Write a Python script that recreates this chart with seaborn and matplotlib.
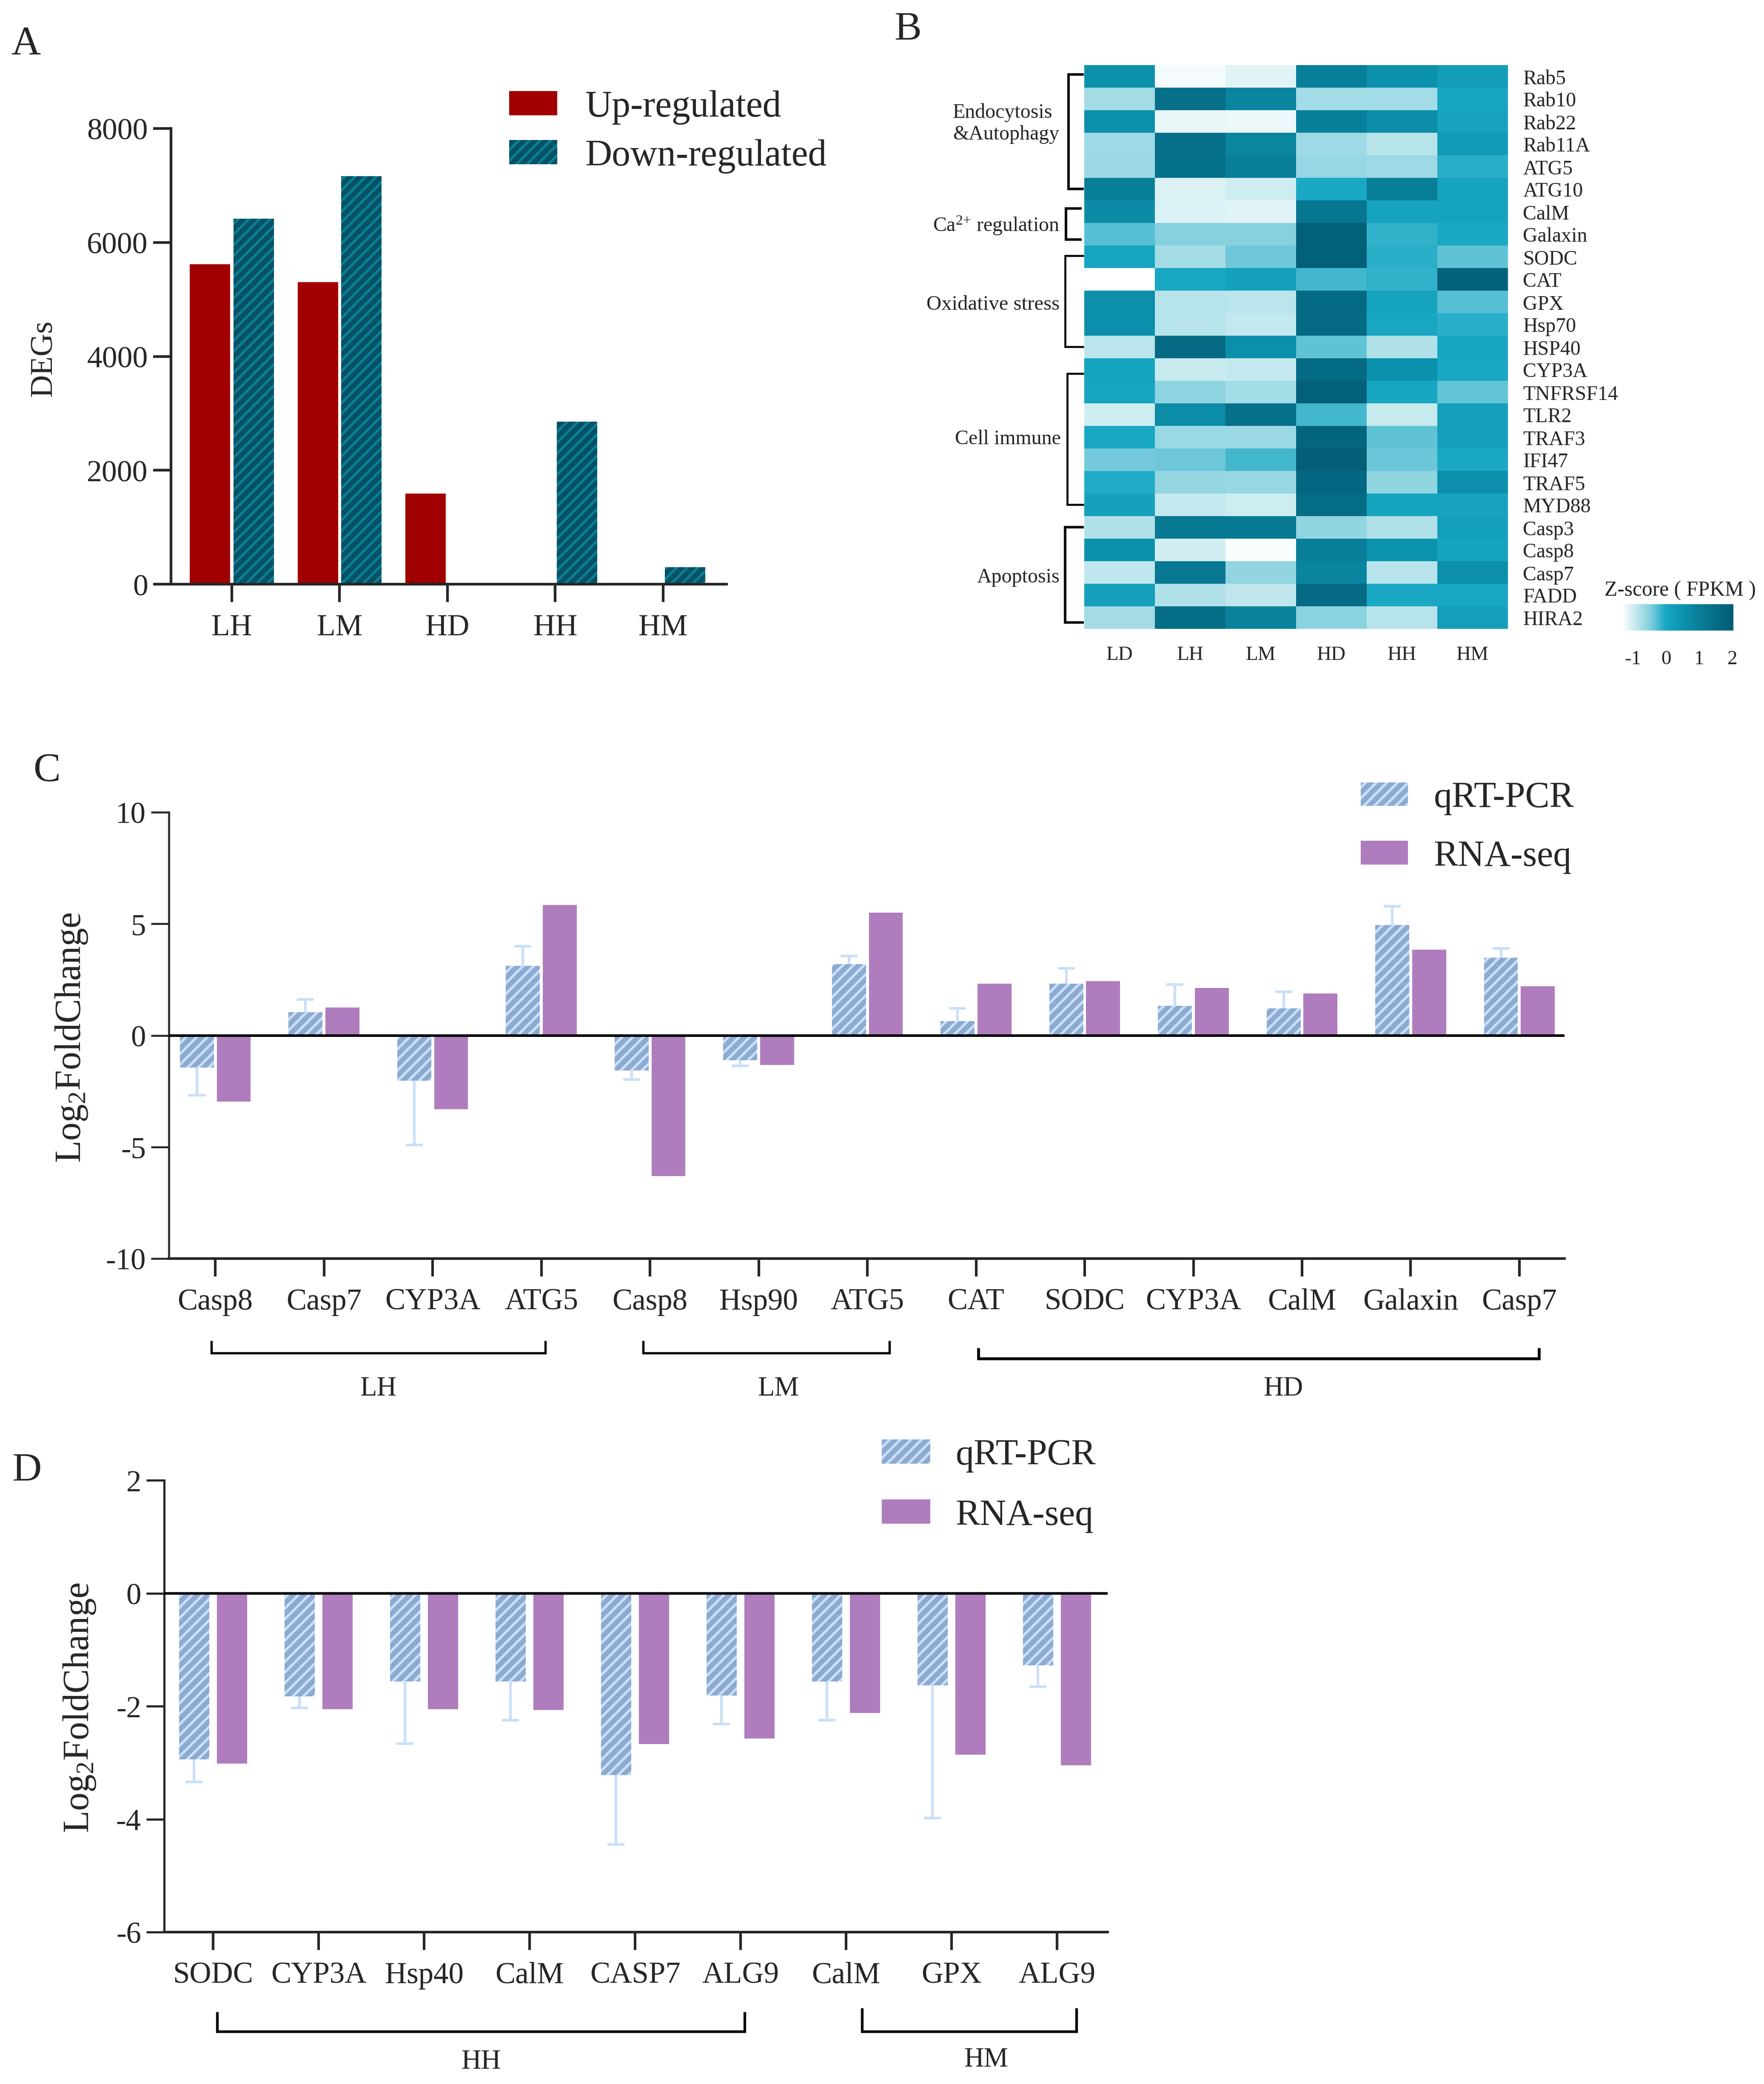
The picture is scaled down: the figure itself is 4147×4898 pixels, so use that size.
import matplotlib
matplotlib.use('Agg')
import matplotlib.pyplot as plt
from matplotlib.colors import LinearSegmentedColormap
from matplotlib.lines import Line2D
from matplotlib.patches import Patch
import seaborn as sns
import pandas as pd

# Panel A
deg_groups = ['LH', 'LM', 'HD', 'HH', 'HM']
deg_up = [5620, 5305, 1590, 0, 0]
deg_down = [6415, 7160, 0, 2855, 300]

# Panel B
heat_cols = ['LD', 'LH', 'LM', 'HD', 'HH', 'HM']
heat_genes = ['Rab5', 'Rab10', 'Rab22', 'Rab11A', 'ATG5', 'ATG10', 'CalM', 'Galaxin', 'SODC', 'CAT', 'GPX', 'Hsp70',
              'HSP40', 'CYP3A', 'TNFRSF14', 'TLR2', 'TRAF3', 'IFI47', 'TRAF5', 'MYD88', 'Casp3', 'Casp8', 'Casp7',
              'FADD', 'HIRA2']
heat_ld = [.55, -.72, .6, -.68, -.66, 1.0, .7, -.3, .05, -1.34, .6, .6, -.87, .12, .07, -1.0, 0, -.42, -.06, .15, -.8, .55, -.9, .2, -.72]
heat_lh = [-1.25, 1.45, -1.17, 1.45, 1.4, -1.1, -1.08, -.52, -.72, .03, -.85, -.85, 1.6, -.95, -.57, .65, -.65, -.4, -.6, -.93, 1.15, -1.03, 1.2, -.8, 1.5]
heat_lm = [-1.12, .85, -1.2, .8, 1.0, -1.0, -1.12, -.52, -.4, .15, -.87, -.92, .6, -.93, -.7, 1.45, -.65, -.2, -.63, -1.0, 1.15, -1.3, -.58, -.9, .9]
heat_hd = [.95, -.7, .95, -.68, -.62, -.02, 1.25, 1.9, 1.9, -.2, 1.6, 1.6, -.33, 1.6, 1.9, -.2, 1.75, 1.95, 1.7, 1.55, -.58, 1.0, .85, 1.6, -.55]
heat_hh = [.55, -.7, .65, -.85, -.67, 1.0, .12, -.12, -.1, -.12, .12, .03, -.8, .55, .05, -.95, -.33, -.38, -.58, .12, -.8, .5, -.85, -.02, -.85]
heat_hm = [.25, .05, .1, .3, -.1, .12, .12, -.02, -.33, 1.85, -.3, -.1, .05, -.02, -.35, .2, .2, -.02, .6, .1, .2, .12, .6, .03, .2]

# Panel C
c_genes = ['Casp8', 'Casp7', 'CYP3A', 'ATG5', 'Casp8', 'Hsp90', 'ATG5', 'CAT', 'SODC', 'CYP3A', 'CalM', 'Galaxin', 'Casp7']
c_qpcr = [-1.44, 1.04, -2.03, 3.11, -1.58, -1.12, 3.19, .64, 2.31, 1.32, 1.22, 4.95, 3.47]
c_err_end = [-2.67, 1.62, -4.91, 3.99, -1.97, -1.36, 3.55, 1.22, 3.01, 2.27, 1.95, 5.78, 3.89]
c_rna = [-2.97, 1.24, -3.31, 5.84, -6.3, -1.32, 5.5, 2.31, 2.43, 2.13, 1.87, 3.85, 2.21]

# Panel D
d_genes = ['SODC', 'CYP3A', 'Hsp40', 'CalM', 'CASP7', 'ALG9', 'CalM', 'GPX', 'ALG9']
d_qpcr = [-2.94, -1.83, -1.56, -1.56, -3.22, -1.81, -1.56, -1.63, -1.28]
d_err_end = [-3.34, -2.03, -2.66, -2.25, -4.45, -2.32, -2.25, -3.98, -1.65]
d_rna = [-3.02, -2.05, -2.05, -2.07, -2.67, -2.57, -2.12, -2.86, -3.05]

W, H = 4147, 4899
DPI = 300
RED = '#a00000'
TEAL_DARK = '#055264'
TEAL_STRIPE = '#0b7d96'
BLUE = '#8caad2'
BLUE_LIGHT = '#c9dff8'
PURPLE = '#af7dbd'
HATCH = '////'

sns.set_style('ticks')
plt.rcParams['font.family'] = ['Liberation Serif', 'DejaVu Serif']
plt.rcParams['mathtext.default'] = 'regular'
plt.rcParams['hatch.linewidth'] = 1.45
plt.rcParams['axes.unicode_minus'] = False

fig = plt.figure(figsize=(W / DPI, H / DPI), dpi=DPI, facecolor='white')


def add_ax(left, top, right, bottom):
    return fig.add_axes([left / W, 1 - bottom / H, (right - left) / W, (bottom - top) / H])


def fig_text(x, y, s, size, ha='center', **kwargs):
    fig.text(x / W, 1 - y / H, s, fontsize=size, ha=ha, va='center', **kwargs)


def px_line(xs, ys, lw=1.3):
    fig.add_artist(Line2D([x / W for x in xs], [1 - y / H for y in ys], color='black', lw=lw,
                          solid_joinstyle='miter', solid_capstyle='butt'))


def style_axes(ax, spine_w=1.5, left_w=None):
    sns.despine(ax=ax)
    ax.spines['bottom'].set_linewidth(spine_w)
    ax.spines['left'].set_linewidth(left_w or spine_w)
    ax.set_xlabel('')
    ax.tick_params(axis='y', length=10, width=left_w or spine_w, pad=3)
    ax.tick_params(axis='x', length=10, width=spine_w, pad=6.5)


def px_legend(ax, handles, labels, x, y, size, hw, hh, gap, spacing):
    size_px = size * DPI / 72
    ax.legend(handles, labels, loc='upper left', bbox_to_anchor=(x / W, 1 - y / H), bbox_transform=fig.transFigure,
              frameon=False, fontsize=size, borderpad=0, borderaxespad=0, handlelength=hw / size_px,
              handleheight=hh / size_px, handletextpad=gap / size_px, labelspacing=spacing)


def hatch_bars(container, stripe):
    for bar in container:
        bar.set_hatch(HATCH)
        bar.set_edgecolor(stripe)
        bar.set_linewidth(0)


def compare_panel(ax, genes, qpcr, rna, err_end, width, gap):
    df = pd.DataFrame({
        'idx': list(range(len(genes))) * 2,
        'value': qpcr + rna,
        'method': ['qRT-PCR'] * len(genes) + ['RNA-seq'] * len(genes),
    })
    sns.barplot(data=df, x='idx', y='value', hue='method', ax=ax, palette={'qRT-PCR': BLUE, 'RNA-seq': PURPLE},
                saturation=1, width=width, gap=gap, linewidth=0, legend=False)
    hatch_bars(ax.containers[0], BLUE_LIGHT)
    xs = [bar.get_x() + bar.get_width() / 2 for bar in ax.containers[0]]
    # whiskers only go away from zero, so no cap on the bar end
    ax.vlines(xs, qpcr, err_end, color=BLUE_LIGHT, lw=1.45, zorder=1)
    ax.plot(xs, err_end, ls='none', marker='_', ms=9.8, mew=1.45, color=BLUE_LIGHT, zorder=1)
    ax.axhline(0, color='black', lw=1.45, zorder=5)
    ax.set_xticks(range(len(genes)), genes)
    ax.set_ylabel('Log$_{2}$FoldChange', fontsize=20.6, va='center')
    ax.tick_params(labelsize=17)


# A
ax_a = add_ax(402, 303, 1708, 1374)
df_a = pd.DataFrame({
    'group': deg_groups * 2,
    'count': deg_up + deg_down,
    'kind': ['Up-regulated'] * 5 + ['Down-regulated'] * 5,
})
sns.barplot(data=df_a, x='group', y='count', hue='kind', ax=ax_a, palette={'Up-regulated': RED, 'Down-regulated': TEAL_DARK},
            saturation=1, width=0.808, gap=0.07, linewidth=0, legend=False)
hatch_bars(ax_a.containers[1], TEAL_STRIPE)
ax_a.set_ylim(0, 8000)
ax_a.set_xlim(-0.564, 4.588)
ax_a.set_yticks([0, 2000, 4000, 6000, 8000])
style_axes(ax_a)
ax_a.tick_params(labelsize=17.2)
ax_a.set_ylabel('DEGs', fontsize=17.7, va='center')
ax_a.yaxis.set_label_coords(104 / W, 1 - 842 / H, transform=fig.transFigure)
px_legend(ax_a, [Patch(facecolor=RED, linewidth=0),
                 Patch(facecolor=TEAL_DARK, edgecolor=TEAL_STRIPE, hatch=HATCH, linewidth=0)],
          ['Up-regulated', 'Down-regulated'], 1197, 212, 21, 113, 55, 65, 0.39)
fig_text(61, 105, 'A', 23)

# B
ax_b = add_ax(2549, 154, 3545, 1479)
cax = add_ax(3813, 1421, 4075, 1483)
heat = pd.DataFrame({'LD': heat_ld, 'LH': heat_lh, 'LM': heat_lm, 'HD': heat_hd, 'HH': heat_hh, 'HM': heat_hm},
                    index=heat_genes)[heat_cols]
vmin, vmax = -1.34, 2.03
anchors = [(-1.34, '#ffffff'), (-1.0, '#cdecf1'), (-0.5, '#84d0de'), (-0.02, '#1aa8c4'), (0.5, '#0c93ae'),
           (1.0, '#097e99'), (2.03, '#025c75')]
heat_cmap = LinearSegmentedColormap.from_list('teal', [((v - vmin) / (vmax - vmin), c) for v, c in anchors])
sns.heatmap(heat, ax=ax_b, cmap=heat_cmap, vmin=vmin, vmax=vmax, cbar_ax=cax, xticklabels=True, yticklabels=True,
            cbar_kws={'orientation': 'horizontal', 'ticks': [-1, 0, 1, 2]})
ax_b.yaxis.tick_right()
ax_b.tick_params(axis='y', length=0, labelsize=11.5, pad=8.5, labelrotation=0)
ax_b.tick_params(axis='x', length=0, labelsize=11.3, pad=9.5, labelrotation=0)
ax_b.set_xlabel('')
ax_b.set_ylabel('')
ax_b.collections[0].colorbar.outline.set_visible(False)
cax.tick_params(axis='x', which='major', direction='in', top=True, bottom=True, length=2, width=1.1, color='white',
                labelsize=11.3, pad=11)
fig_text(3950, 1388, 'Z-score ( FPKM )', 11.9)
fig_text(2134, 71, 'B', 23)

# group brackets next to the heatmap
px_line([2548, 2512, 2512, 2548], [176, 176, 445, 445], lw=1.4)
px_line([2543, 2506, 2506, 2543], [491, 491, 564, 564], lw=1.4)
px_line([2548, 2504, 2504, 2548], [602, 602, 816, 816], lw=1.1)
px_line([2548, 2509, 2509, 2548], [879, 879, 1187, 1187], lw=1.1)
px_line([2548, 2504, 2504, 2548], [1240, 1240, 1464, 1464], lw=1.4)
fig.text(2240 / W, 1 - 290 / H, 'Endocytosis\n&Autophagy', fontsize=11.5, ha='left', va='center')
fig_text(2491, 530, 'Ca$^{2{+}}$ regulation', 11.5, ha='right')
fig_text(2491, 716, 'Oxidative stress', 11.7, ha='right')
fig_text(2494, 1032, 'Cell immune', 11.5, ha='right')
fig_text(2491, 1357, 'Apoptosis', 11.5, ha='right')

# C
ax_c = add_ax(397, 1910, 3678, 2959)
compare_panel(ax_c, c_genes, c_qpcr, c_rna, c_err_end, 0.68, 0.08)
ax_c.set_ylim(-10, 10)
ax_c.set_xlim(-0.427, 12.415)
ax_c.set_yticks([-10, -5, 0, 5, 10])
style_axes(ax_c, 1.45, 1.1)
ax_c.yaxis.set_label_coords(168 / W, 1 - 2438 / H, transform=fig.transFigure)
px_legend(ax_c, [Patch(facecolor=BLUE, edgecolor=BLUE_LIGHT, hatch=HATCH, linewidth=0), Patch(facecolor=PURPLE, linewidth=0)],
          ['qRT-PCR', 'RNA-seq'], 3199, 1837, 20.6, 111, 53, 61, 0.68)
px_line([497, 497, 1282, 1282], [3152, 3181, 3181, 3152])
px_line([1512, 1512, 2091, 2091], [3152, 3181, 3181, 3152])
px_line([2300, 2300, 3618, 3618], [3169, 3194, 3194, 3169], lw=1.6)
fig_text(889, 3264, 'LH', 15.5)
fig_text(1830, 3264, 'LM', 15.5)
fig_text(3017, 3264, 'HD', 15.5)
fig_text(110, 1813, 'C', 23)

# D
ax_d = add_ax(386, 3480, 2604, 4542)
compare_panel(ax_d, d_genes, d_qpcr, d_rna, d_err_end, 0.72, 0.21)
ax_d.set_ylim(-6, 2)
ax_d.set_xlim(-0.464, 8.48)
ax_d.set_yticks([-6, -4, -2, 0, 2])
style_axes(ax_d, 1.45, 1.2)
ax_d.yaxis.set_label_coords(187 / W, 1 - 4013 / H, transform=fig.transFigure)
px_legend(ax_d, [Patch(facecolor=BLUE, edgecolor=BLUE_LIGHT, hatch=HATCH, linewidth=0), Patch(facecolor=PURPLE, linewidth=0)],
          ['qRT-PCR', 'RNA-seq'], 2073, 3382, 20.6, 114, 55, 60, 0.72)
px_line([511, 511, 1751, 1751], [4730, 4776, 4776, 4730], lw=1.5)
px_line([2027, 2027, 2531, 2531], [4721, 4776, 4776, 4721], lw=1.5)
fig_text(1131, 4846, 'HH', 15.5)
fig_text(2318, 4841, 'HM', 15.5)
fig_text(63, 3457, 'D', 23)

fig.savefig('out.png', dpi=DPI, facecolor='white')
